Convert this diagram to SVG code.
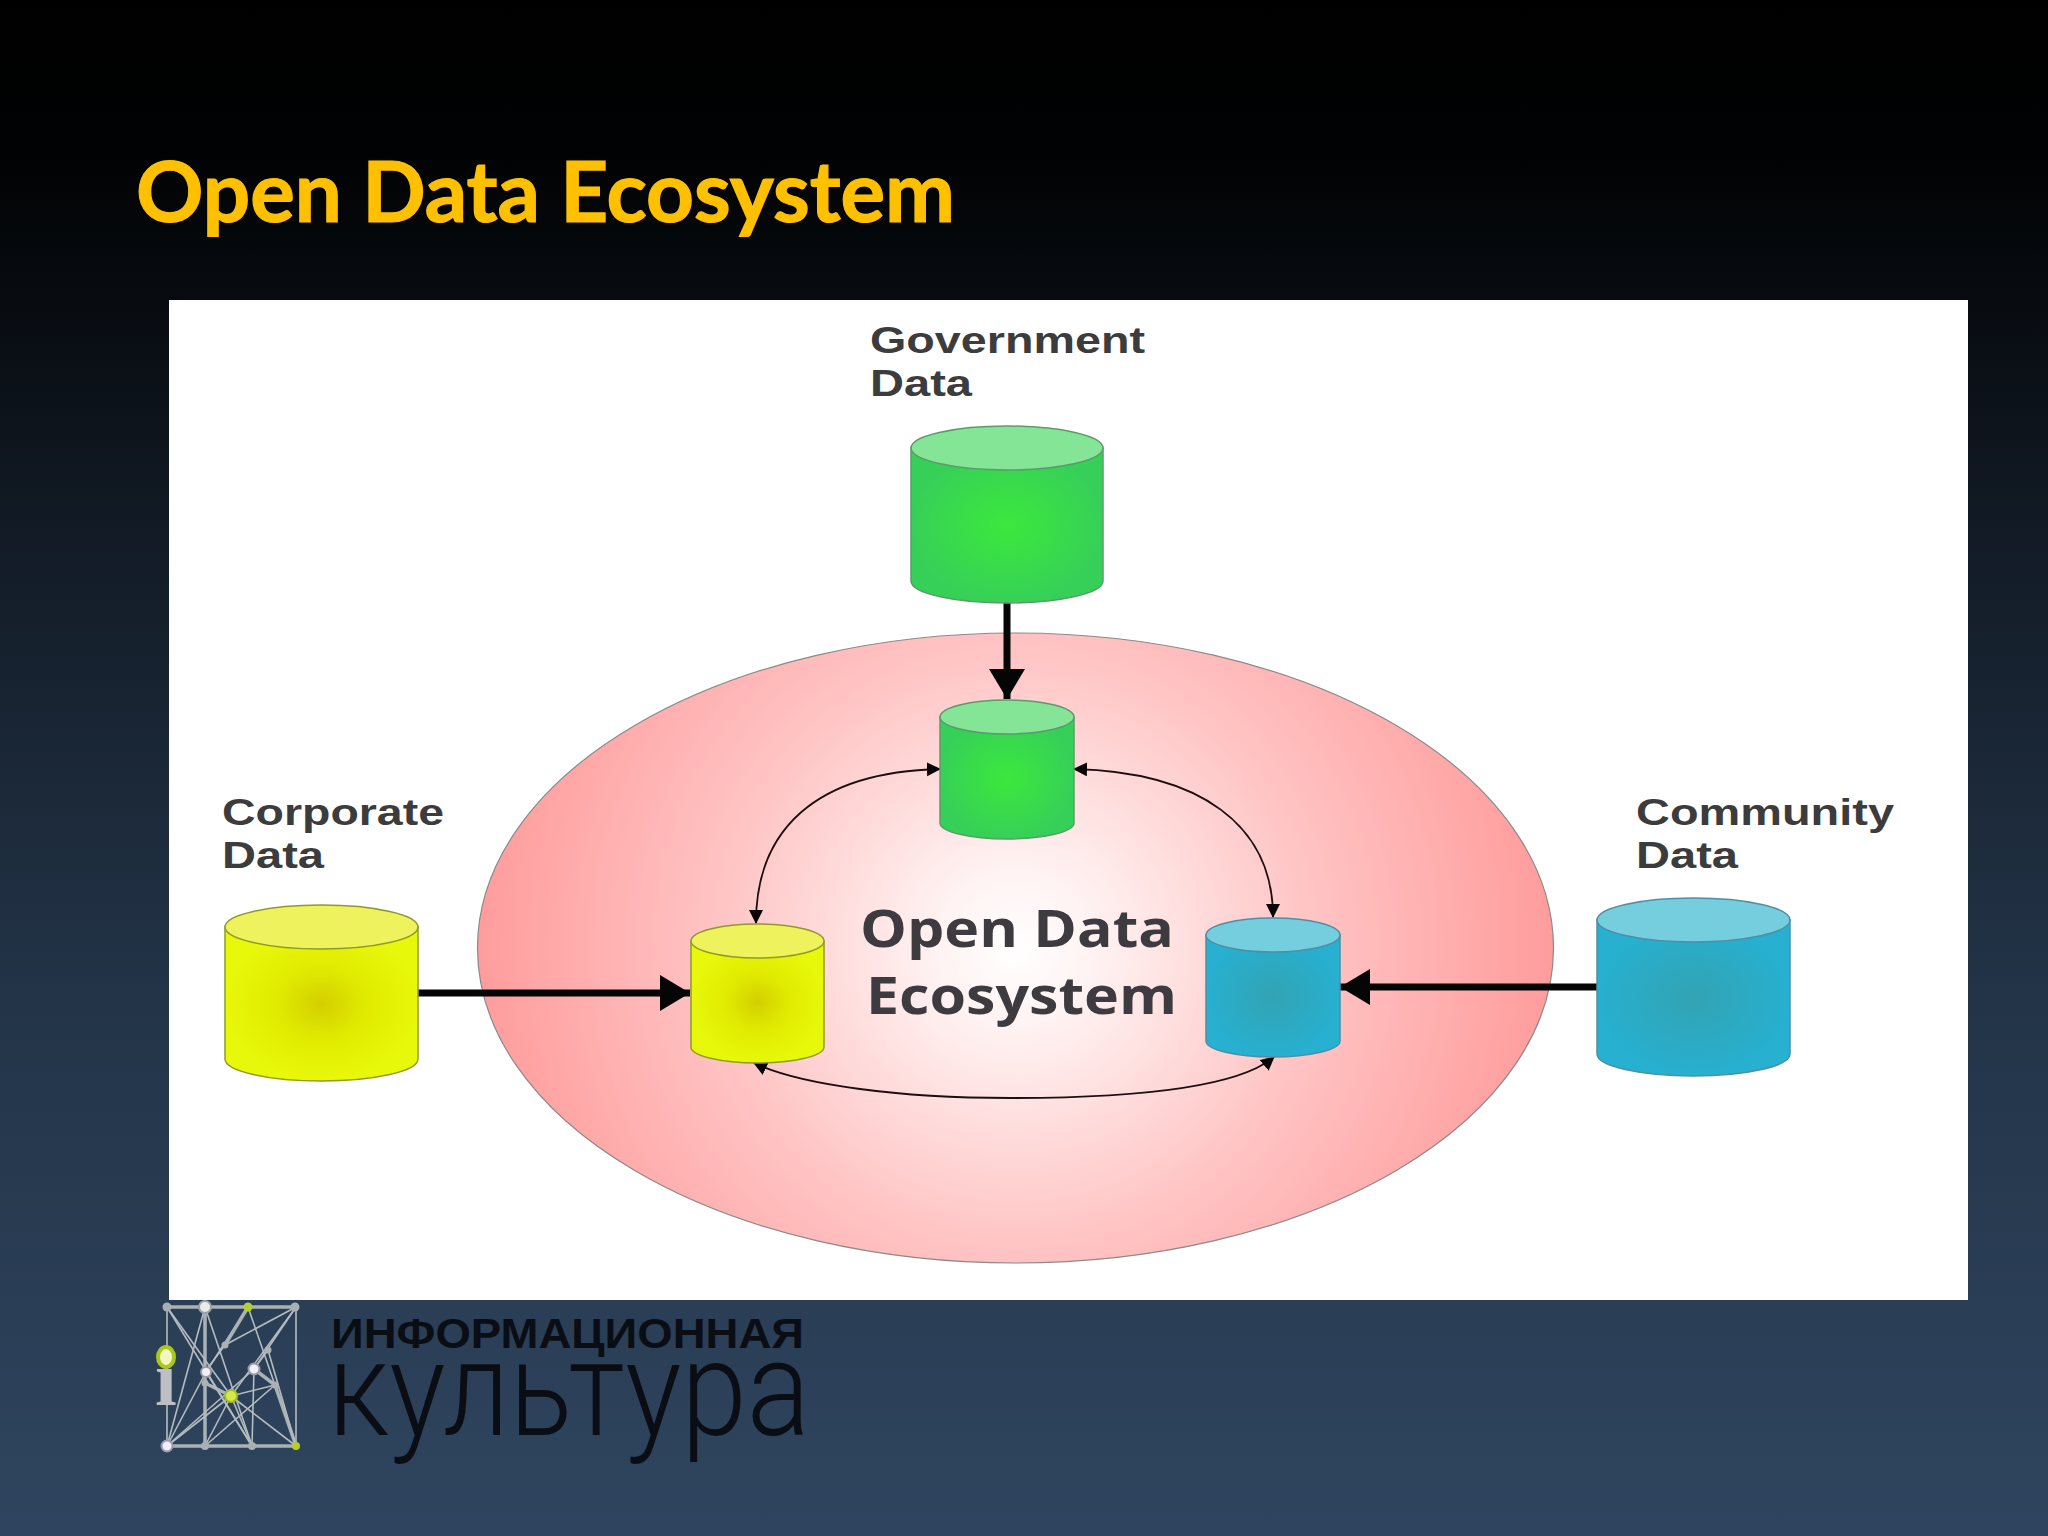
<svg xmlns="http://www.w3.org/2000/svg" width="2048" height="1536" viewBox="0 0 2048 1536">
<style>
.lbl{font-family:"Liberation Sans",Arial,sans-serif;font-weight:700;font-size:37px;fill:#3c3c3c}
.eco{font-family:"Open Sans","Noto Sans",sans-serif;font-weight:700;font-size:52px;fill:#3d3b3f}
.thick{fill:none;stroke:#050505;stroke-width:7}
.thin{fill:none;stroke:#1a1010;stroke-width:1.8;marker-start:url(#tip);marker-end:url(#tip)}
.y{stroke:#8f9a2a;stroke-width:1.5}.g{stroke:#5d9a6b;stroke-width:1.5}.b{stroke:#4f8fa5;stroke-width:1.5}
.net line{stroke:#b4bcc0;stroke-width:1.6}
.net .w{stroke-width:3.5;stroke:#aab2b6}
</style>
<defs>
<linearGradient id="bg" x1="0" y1="0" x2="0" y2="1"><stop offset="0" stop-color="#000"/><stop offset=".1" stop-color="#010203"/><stop offset=".2" stop-color="#080c11"/><stop offset=".35" stop-color="#121b26"/><stop offset=".65" stop-color="#233448"/><stop offset="1" stop-color="#2f455f"/></linearGradient>
<radialGradient id="pink" gradientUnits="userSpaceOnUse" cx="1015" cy="948" r="540"><stop offset="0" stop-color="#fff"/><stop offset=".15" stop-color="#fff2f2"/><stop offset=".55" stop-color="#ffc4c4"/><stop offset="1" stop-color="#ff9c9c"/></radialGradient>
<radialGradient id="gy"><stop offset="0" stop-color="#d4cf00"/><stop offset=".45" stop-color="#e0ea00"/><stop offset="1" stop-color="#e8f80a"/></radialGradient>
<radialGradient id="gg"><stop offset="0" stop-color="#3ce83c"/><stop offset="1" stop-color="#36d058"/></radialGradient>
<radialGradient id="gb"><stop offset="0" stop-color="#32a3b3"/><stop offset="1" stop-color="#27b0d0"/></radialGradient>
<marker id="tip" markerUnits="userSpaceOnUse" markerWidth="16" markerHeight="16" refX="13" refY="7" orient="auto-start-reverse"><path d="M0 0L14 7L0 14Z" fill="#0a0505"/></marker>
<marker id="big" markerUnits="userSpaceOnUse" markerWidth="34" markerHeight="38" refX="30" refY="18" orient="auto"><path d="M0 0L30 18L0 36Z" fill="#050505"/></marker>
</defs>
<rect width="2048" height="1536" fill="url(#bg)"/>
<text x="136" y="222" textLength="819" lengthAdjust="spacingAndGlyphs" style="font-family:Lato,'Open Sans',sans-serif;font-weight:700;font-size:84px;fill:#ffc000;stroke:#ffc000;stroke-width:1.2">Open Data Ecosystem</text>
<rect x="169" y="300" width="1799" height="1000" fill="#fff"/>
<g id="ecosystem">
<ellipse cx="1015.5" cy="948" rx="538" ry="315" fill="url(#pink)" stroke="#8a8a8a" stroke-width="1.2"/>
<text class="eco" x="860" y="947" textLength="314" lengthAdjust="spacingAndGlyphs">Open Data</text>
<text class="eco" x="866" y="1014" textLength="311" lengthAdjust="spacingAndGlyphs">Ecosystem</text>
</g>
<g id="connectors">
<path class="thick" d="M1007 603V699" marker-end="url(#big)"/>
<path class="thick" d="M418 993H690" marker-end="url(#big)"/>
<path class="thick" d="M1598 987H1340" marker-end="url(#big)"/>
<path class="thin" d="M940 769C815 772 756 830 756 923"/>
<path class="thin" d="M1074 769C1200 772 1273 825 1273 917"/>
<path class="thin" d="M754 1063C800 1085 900 1098 1010 1098C1120 1098 1235 1090 1274 1057"/>
</g>
<g id="government-data">
<path class="g" fill="url(#gg)" d="M911 448V581A96 22 0 0 0 1103 581V448Z"/>
<ellipse class="g" cx="1007" cy="448" rx="96" ry="22" fill="#83e595"/>
<text class="lbl" x="870" y="353" textLength="275" lengthAdjust="spacingAndGlyphs">Government</text>
<text class="lbl" x="870" y="396" textLength="102" lengthAdjust="spacingAndGlyphs">Data</text>
</g>
<g id="corporate-data">
<path class="y" fill="url(#gy)" d="M225 927V1059A96.500 22 0 0 0 418 1059V927Z"/>
<ellipse class="y" cx="321.500" cy="927" rx="96.500" ry="22" fill="#eef25c"/>
<text class="lbl" x="222" y="825" textLength="222" lengthAdjust="spacingAndGlyphs">Corporate</text>
<text class="lbl" x="222" y="868" textLength="102" lengthAdjust="spacingAndGlyphs">Data</text>
</g>
<g id="community-data">
<path class="b" fill="url(#gb)" d="M1597 920V1054A96.500 22 0 0 0 1790 1054V920Z"/>
<ellipse class="b" cx="1693.500" cy="920" rx="96.500" ry="22" fill="#74cede"/>
<text class="lbl" x="1636" y="825" textLength="258" lengthAdjust="spacingAndGlyphs">Community</text>
<text class="lbl" x="1636" y="868" textLength="102" lengthAdjust="spacingAndGlyphs">Data</text>
</g>
<g id="eco-government">
<path class="g" fill="url(#gg)" d="M940 717V823A67 16 0 0 0 1074 823V717Z"/>
<ellipse class="g" cx="1007" cy="717" rx="67" ry="17" fill="#83e595"/>
</g>
<g id="eco-corporate">
<path class="y" fill="url(#gy)" d="M691 941V1047A66.500 16 0 0 0 824 1047V941Z"/>
<ellipse class="y" cx="757.500" cy="941" rx="66.500" ry="17" fill="#eef25c"/>
</g>
<g id="eco-community">
<path class="b" fill="url(#gb)" d="M1206 935V1041A67 16 0 0 0 1340 1041V935Z"/>
<ellipse class="b" cx="1273" cy="935" rx="67" ry="17" fill="#74cede"/>
</g>
<g id="logo">
<g class="net">
<line class="w" x1="167" y1="1307" x2="296" y2="1307"/><line class="w" x1="167" y1="1446" x2="296" y2="1446"/>
<line x1="167" y1="1307" x2="167" y2="1446"/><line x1="296" y1="1307" x2="296" y2="1446"/>
<line class="w" x1="205" y1="1307" x2="205" y2="1446"/><line x1="167" y1="1307" x2="231" y2="1396"/>
<line x1="205" y1="1307" x2="167" y2="1446"/><line x1="248" y1="1307" x2="206" y2="1372"/><line x1="248" y1="1307" x2="296" y2="1446"/>
<line x1="296" y1="1307" x2="225" y2="1345"/><line x1="296" y1="1307" x2="254" y2="1369"/><line x1="296" y1="1307" x2="231" y2="1396"/>
<line x1="167" y1="1307" x2="252" y2="1446"/><line x1="205" y1="1307" x2="252" y2="1446"/><line class="w" x1="248" y1="1307" x2="225" y2="1345"/>
<line x1="225" y1="1345" x2="205" y2="1372"/><line x1="254" y1="1369" x2="268" y2="1350"/><line class="w" x1="254" y1="1369" x2="275" y2="1385"/>
<line class="w" x1="275" y1="1385" x2="296" y2="1446"/><line x1="254" y1="1369" x2="252" y2="1446"/><line class="w" x1="205" y1="1383" x2="231" y2="1396"/>
<line x1="231" y1="1396" x2="296" y2="1446"/><line x1="231" y1="1396" x2="167" y2="1446"/><line x1="231" y1="1396" x2="275" y2="1385"/>
<line x1="231" y1="1396" x2="205" y2="1446"/><line x1="231" y1="1396" x2="252" y2="1446"/><line x1="206" y1="1372" x2="167" y2="1446"/>
<line x1="206" y1="1372" x2="252" y2="1446"/><line x1="275" y1="1385" x2="205" y2="1446"/><line x1="254" y1="1369" x2="167" y2="1446"/><line x1="268" y1="1350" x2="296" y2="1446"/>
</g>
<circle cx="167" cy="1307" r="4.500" fill="#a8b0b6"/><circle cx="205" cy="1307" r="6" fill="#e8ecef" stroke="#9aa2a8" stroke-width="2"/><circle cx="248" cy="1307" r="4.500" fill="#b5d02a"/><circle cx="295" cy="1307" r="4.500" fill="#a8b0b6"/>
<circle cx="167" cy="1446" r="5.500" fill="#eef" stroke="#99a" stroke-width="2"/><circle cx="205" cy="1446" r="4" fill="#a8b0b6"/><circle cx="252" cy="1446" r="4" fill="#a8b0b6"/><circle cx="296" cy="1446" r="4" fill="#b5d02a"/>
<circle cx="206" cy="1372" r="5" fill="#f0f0f5" stroke="#99a" stroke-width="2"/><circle cx="254" cy="1369" r="5.500" fill="#f0f0f5" stroke="#99a" stroke-width="2"/><circle cx="231" cy="1396" r="6" fill="#d8e84a" stroke="#a5c020" stroke-width="2"/>
<circle cx="225" cy="1345" r="3.500" fill="#aab2b6"/><circle cx="268" cy="1350" r="3.500" fill="#aab2b6"/><circle cx="205" cy="1383" r="3.500" fill="#aab2b6"/><circle cx="275" cy="1385" r="3.500" fill="#aab2b6"/>
<ellipse cx="166" cy="1357" rx="8" ry="10" fill="#f4f6c0" stroke="#a9c71c" stroke-width="4"/>
<text x="155" y="1405" style="font-family:'Liberation Serif',serif;font-weight:700;font-size:78px;fill:#bcc0c4">ı</text>
<text x="331" y="1348" textLength="473" lengthAdjust="spacingAndGlyphs" style="font-family:'Liberation Sans',sans-serif;font-weight:700;font-size:43px;fill:#0a0e14">ИНФОРМАЦИОННАЯ</text>
<text x="328" y="1435" textLength="482" lengthAdjust="spacingAndGlyphs" style="font-family:Roboto,sans-serif;font-weight:300;font-size:134px;fill:#0a0e14">культура</text>
</g>
</svg>
